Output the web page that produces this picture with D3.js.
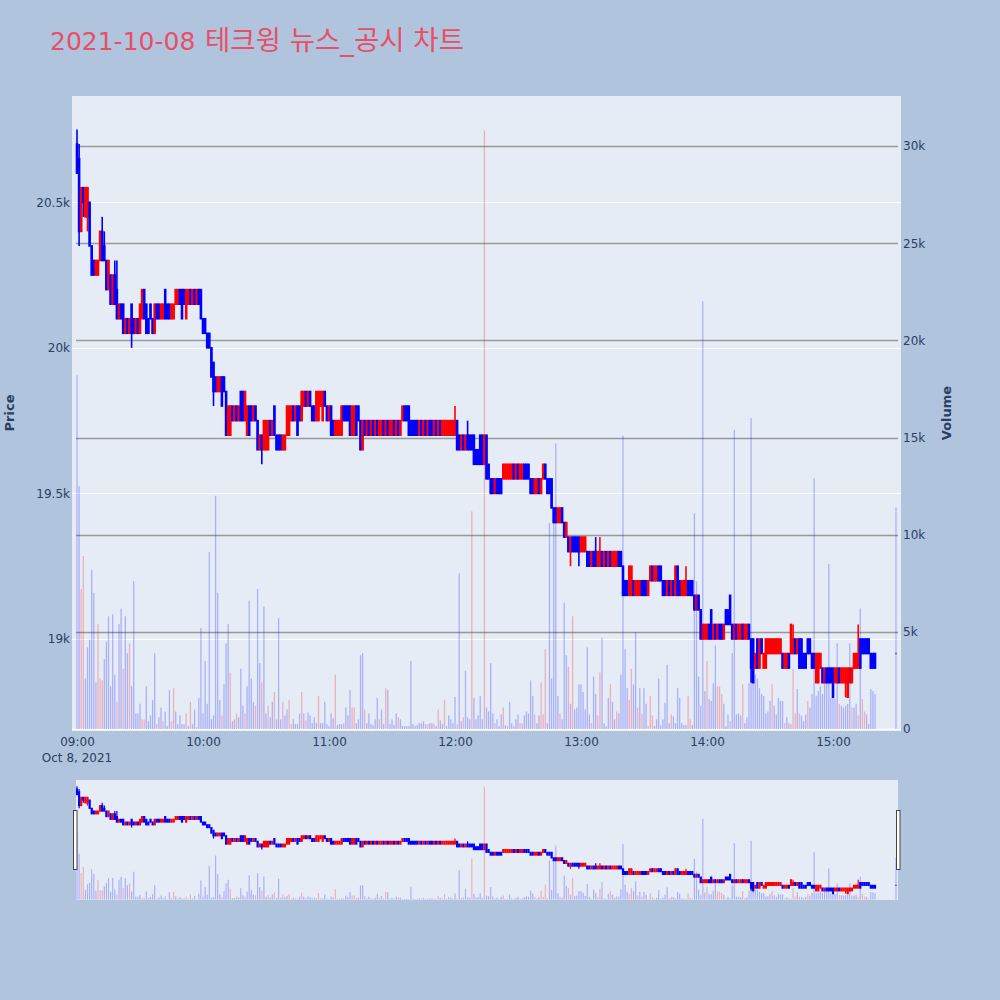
<!DOCTYPE html>
<html>
<head>
<meta charset="utf-8">
<style>
    body { margin: 0; background: #b0c4de; }
    svg text { font-family: "DejaVu Sans", "Noto Sans CJK KR", sans-serif; }
</style>
</head>
<body>
<svg id="chart" width="1000" height="1000"></svg>
<script src="https://cdn.jsdelivr.net/npm/d3@7"></script>
<script>
    // 1-minute candles 09:00 ~ 15:20, then the 15:30 closing print (last entry)
    var opens = [
        20700, 20650, 20400, 20550, 20450, 20450, 20500, 20350, 20300, 20250, // 09:00
        20250, 20300, 20400, 20350, 20300, 20200, 20250, 20150, 20250, 20200,
        20100, 20150, 20150, 20050, 20100, 20050, 20150, 20100, 20050, 20100,
        20050, 20100, 20200, 20150, 20100, 20150, 20100, 20050, 20150, 20150,
        20100, 20100, 20200, 20150, 20150, 20100, 20100, 20150, 20150, 20200,
        20200, 20200, 20100, 20150, 20200, 20150, 20200, 20150, 20200, 20200,
        20100, 20100, 20050, 20050, 20000, 19950, 19900, 19850, 19850, 19900, // 10:00
        19900, 19850, 19700, 19700, 19800, 19750, 19800, 19750, 19850, 19850,
        19750, 19700, 19800, 19800, 19750, 19800, 19750, 19650, 19700, 19650,
        19650, 19650, 19750, 19700, 19800, 19700, 19700, 19700, 19650, 19650,
        19700, 19700, 19750, 19800, 19750, 19800, 19800, 19750, 19800, 19850,
        19800, 19850, 19800, 19800, 19750, 19750, 19800, 19750, 19850, 19800,
        19750, 19800, 19750, 19700, 19700, 19700, 19700, 19800, 19800, 19800, // 11:00
        19800, 19700, 19700, 19800, 19800, 19750, 19650, 19750, 19700, 19750,
        19700, 19750, 19700, 19750, 19700, 19700, 19750, 19700, 19750, 19700,
        19700, 19750, 19700, 19750, 19700, 19750, 19800, 19800, 19800, 19750,
        19750, 19750, 19750, 19700, 19750, 19700, 19750, 19700, 19750, 19750,
        19700, 19750, 19700, 19750, 19700, 19700, 19700, 19700, 19700, 19700,
        19700, 19750, 19700, 19650, 19700, 19650, 19700, 19700, 19700, 19700, // 12:00
        19650, 19650, 19700, 19700, 19600, 19700, 19600, 19550, 19550, 19500,
        19550, 19550, 19550, 19550, 19550, 19550, 19550, 19550, 19600, 19550,
        19600, 19550, 19550, 19600, 19600, 19600, 19550, 19550, 19500, 19500,
        19550, 19500, 19550, 19600, 19550, 19550, 19550, 19450, 19450, 19400,
        19400, 19450, 19400, 19350, 19350, 19300, 19350, 19350, 19350, 19350,
        19300, 19300, 19300, 19300, 19300, 19250, 19300, 19300, 19250, 19250, // 13:00
        19300, 19250, 19300, 19250, 19300, 19250, 19250, 19250, 19300, 19300,
        19250, 19200, 19200, 19150, 19150, 19200, 19150, 19150, 19150, 19200,
        19200, 19200, 19150, 19200, 19250, 19200, 19200, 19250, 19250, 19200,
        19200, 19150, 19200, 19150, 19200, 19150, 19250, 19200, 19150, 19150,
        19150, 19200, 19200, 19200, 19150, 19100, 19150, 19100, 19000, 19000,
        19000, 19050, 19100, 19000, 19050, 19000, 19050, 19050, 19000, 19100, // 14:00
        19100, 19150, 19050, 19000, 19050, 19000, 19000, 19050, 19000, 19000,
        19050, 19000, 19000, 18900, 19000, 18900, 19000, 18900, 18900, 18950,
        18950, 18950, 18950, 18950, 18950, 18950, 18950, 18900, 18900, 18950,
        18950, 18950, 19000, 18950, 19000, 19000, 18950, 18950, 19000, 19000,
        18950, 18950, 18850, 18850, 18900, 18900, 18850, 18900, 18900, 18900,
        18900, 18850, 18850, 18900, 18850, 18850, 18850, 18800, 18850, 18850, // 15:00
        18900, 18900, 18900, 19000, 19000, 19000, 19000, 19000, 18950, 18950,
        18950,
        18950
    ];
    var closes = [
        20600, 20400, 20550, 20500, 20550, 20550, 20350, 20250, 20250, 20300,
        20300, 20400, 20300, 20300, 20200, 20300, 20150, 20250, 20150, 20100,
        20150, 20100, 20050, 20100, 20050, 20100, 20050, 20050, 20100, 20050,
        20150, 20200, 20100, 20050, 20050, 20100, 20050, 20150, 20100, 20100,
        20150, 20150, 20100, 20100, 20100, 20150, 20150, 20200, 20200, 20150,
        20100, 20150, 20200, 20200, 20150, 20200, 20150, 20200, 20150, 20100,
        20050, 20050, 20000, 20000, 19900, 19850, 19850, 19900, 19900, 19800,
        19850, 19700, 19800, 19800, 19750, 19800, 19750, 19800, 19750, 19750,
        19850, 19800, 19700, 19750, 19800, 19750, 19650, 19700, 19650, 19750,
        19750, 19750, 19700, 19750, 19700, 19650, 19650, 19650, 19700, 19700,
        19800, 19800, 19800, 19750, 19800, 19700, 19750, 19850, 19850, 19800,
        19850, 19800, 19750, 19750, 19850, 19850, 19850, 19850, 19800, 19750,
        19800, 19700, 19700, 19750, 19750, 19750, 19800, 19750, 19750, 19750,
        19700, 19800, 19800, 19700, 19750, 19650, 19750, 19700, 19750, 19700,
        19750, 19700, 19750, 19700, 19750, 19750, 19700, 19750, 19700, 19750,
        19750, 19700, 19750, 19700, 19750, 19800, 19750, 19750, 19700, 19700,
        19700, 19700, 19700, 19750, 19700, 19750, 19700, 19750, 19700, 19700,
        19750, 19700, 19750, 19700, 19750, 19750, 19750, 19750, 19750, 19750,
        19750, 19650, 19650, 19700, 19650, 19700, 19650, 19650, 19650, 19600,
        19600, 19600, 19600, 19600, 19700, 19550, 19550, 19500, 19500, 19550,
        19500, 19500, 19500, 19600, 19600, 19600, 19600, 19600, 19550, 19600,
        19550, 19600, 19600, 19550, 19550, 19550, 19500, 19500, 19550, 19550,
        19500, 19550, 19600, 19550, 19500, 19500, 19450, 19400, 19400, 19450,
        19450, 19400, 19350, 19400, 19300, 19350, 19300, 19300, 19300, 19300,
        19350, 19350, 19350, 19250, 19250, 19300, 19250, 19250, 19300, 19300,
        19250, 19300, 19250, 19300, 19250, 19300, 19300, 19300, 19250, 19250,
        19150, 19150, 19150, 19250, 19250, 19150, 19200, 19200, 19200, 19150,
        19150, 19150, 19200, 19250, 19200, 19250, 19250, 19200, 19200, 19150,
        19150, 19200, 19150, 19200, 19150, 19250, 19150, 19150, 19200, 19200,
        19200, 19150, 19150, 19150, 19100, 19150, 19100, 19000, 19050, 19050,
        19050, 19000, 19000, 19050, 19000, 19050, 19000, 19000, 19050, 19050,
        19050, 19050, 19000, 19050, 19000, 19050, 19050, 19000, 19050, 19050,
        19000, 18900, 18850, 18950, 18900, 19000, 18950, 18950, 19000, 19000,
        19000, 19000, 19000, 19000, 19000, 19000, 18900, 18950, 18950, 18900,
        19050, 19000, 18950, 19000, 18900, 18900, 18900, 18900, 18950, 18950,
        18900, 18900, 18950, 18950, 18950, 18850, 18900, 18850, 18850, 18850,
        18800, 18900, 18900, 18850, 18900, 18900, 18900, 18900, 18900, 18900,
        18950, 18950, 18950, 18900, 18950, 18950, 18950, 18950, 18900, 18900,
        18900,
        18950
    ];
    var highs = [
        20750, 20700, 20550, 20550, 20550, 20550, 20500, 20350, 20300, 20300,
        20300, 20400, 20450, 20400, 20300, 20300, 20250, 20250, 20300, 20300,
        20150, 20150, 20150, 20100, 20100, 20100, 20150, 20100, 20100, 20100,
        20150, 20200, 20200, 20150, 20100, 20150, 20100, 20150, 20150, 20150,
        20150, 20150, 20200, 20150, 20150, 20150, 20150, 20200, 20200, 20200,
        20200, 20200, 20200, 20200, 20200, 20200, 20200, 20200, 20200, 20200,
        20100, 20100, 20050, 20050, 20000, 19950, 19900, 19900, 19900, 19900,
        19900, 19850, 19800, 19800, 19800, 19800, 19800, 19800, 19850, 19850,
        19850, 19800, 19800, 19800, 19800, 19800, 19750, 19700, 19700, 19750,
        19750, 19750, 19750, 19750, 19800, 19700, 19700, 19700, 19700, 19700,
        19800, 19800, 19800, 19800, 19800, 19800, 19800, 19850, 19850, 19850,
        19850, 19850, 19800, 19800, 19850, 19850, 19850, 19850, 19850, 19800,
        19800, 19800, 19750, 19750, 19750, 19750, 19800, 19800, 19800, 19800,
        19800, 19800, 19800, 19800, 19800, 19750, 19750, 19750, 19750, 19750,
        19750, 19750, 19750, 19750, 19750, 19750, 19750, 19750, 19750, 19750,
        19750, 19750, 19750, 19750, 19750, 19800, 19800, 19800, 19800, 19750,
        19750, 19750, 19750, 19750, 19750, 19750, 19750, 19750, 19750, 19750,
        19750, 19750, 19750, 19750, 19750, 19750, 19750, 19750, 19750, 19750,
        19800, 19750, 19700, 19700, 19700, 19700, 19750, 19700, 19700, 19700,
        19650, 19650, 19700, 19700, 19700, 19700, 19600, 19550, 19550, 19550,
        19550, 19550, 19550, 19600, 19600, 19600, 19600, 19600, 19600, 19600,
        19600, 19600, 19600, 19600, 19600, 19600, 19550, 19550, 19550, 19550,
        19550, 19550, 19600, 19600, 19550, 19550, 19550, 19450, 19450, 19450,
        19450, 19450, 19400, 19400, 19350, 19350, 19350, 19350, 19350, 19350,
        19350, 19350, 19350, 19300, 19300, 19300, 19300, 19350, 19300, 19350,
        19300, 19300, 19300, 19300, 19300, 19300, 19300, 19300, 19300, 19300,
        19250, 19200, 19200, 19250, 19250, 19200, 19200, 19200, 19200, 19200,
        19200, 19200, 19200, 19250, 19250, 19250, 19250, 19250, 19250, 19200,
        19200, 19200, 19200, 19200, 19200, 19250, 19250, 19200, 19200, 19200,
        19250, 19200, 19200, 19200, 19150, 19150, 19150, 19100, 19050, 19050,
        19050, 19050, 19100, 19050, 19050, 19050, 19050, 19050, 19050, 19100,
        19100, 19150, 19050, 19050, 19050, 19050, 19050, 19050, 19050, 19050,
        19050, 19000, 19000, 18950, 19000, 19000, 19000, 18950, 19000, 19000,
        19000, 19000, 19000, 19000, 19000, 19000, 18950, 18950, 18950, 18950,
        19050, 19050, 19000, 19000, 19000, 19000, 18950, 18950, 19000, 19000,
        18950, 18950, 18950, 18950, 18950, 18900, 18900, 18900, 18900, 18900,
        18900, 18900, 18900, 18900, 18900, 18900, 18900, 18900, 18900, 18900,
        18950, 18950, 19050, 19000, 19000, 19000, 19000, 19000, 18950, 18950,
        18950,
        18950
    ];
    var lows = [
        20600, 20350, 20400, 20450, 20450, 20400, 20350, 20250, 20250, 20250,
        20250, 20300, 20300, 20300, 20200, 20200, 20150, 20150, 20150, 20100,
        20100, 20100, 20050, 20050, 20050, 20050, 20000, 20050, 20050, 20050,
        20050, 20100, 20100, 20050, 20050, 20100, 20050, 20050, 20100, 20100,
        20100, 20100, 20100, 20100, 20100, 20100, 20100, 20150, 20150, 20150,
        20100, 20150, 20100, 20150, 20150, 20150, 20150, 20150, 20150, 20100,
        20050, 20050, 20000, 20000, 19900, 19800, 19850, 19850, 19850, 19800,
        19850, 19700, 19700, 19700, 19750, 19750, 19750, 19750, 19750, 19750,
        19750, 19700, 19700, 19750, 19750, 19750, 19650, 19650, 19600, 19650,
        19650, 19650, 19700, 19700, 19700, 19650, 19650, 19650, 19650, 19650,
        19700, 19700, 19750, 19750, 19750, 19700, 19750, 19750, 19800, 19800,
        19800, 19800, 19750, 19750, 19750, 19750, 19800, 19750, 19800, 19750,
        19750, 19700, 19700, 19700, 19700, 19700, 19700, 19750, 19750, 19750,
        19700, 19700, 19700, 19700, 19750, 19650, 19650, 19700, 19700, 19700,
        19700, 19700, 19700, 19700, 19700, 19700, 19700, 19700, 19700, 19700,
        19700, 19700, 19700, 19700, 19700, 19750, 19750, 19750, 19700, 19700,
        19700, 19700, 19700, 19700, 19700, 19700, 19700, 19700, 19700, 19700,
        19700, 19700, 19700, 19700, 19700, 19700, 19700, 19700, 19700, 19700,
        19700, 19650, 19650, 19650, 19650, 19650, 19650, 19650, 19650, 19600,
        19600, 19600, 19600, 19600, 19600, 19550, 19550, 19500, 19500, 19500,
        19500, 19500, 19500, 19550, 19550, 19550, 19550, 19550, 19550, 19550,
        19550, 19550, 19550, 19550, 19550, 19550, 19500, 19500, 19500, 19500,
        19500, 19500, 19550, 19550, 19500, 19500, 19450, 19400, 19400, 19400,
        19400, 19400, 19350, 19350, 19300, 19250, 19300, 19300, 19300, 19250,
        19300, 19300, 19300, 19250, 19250, 19250, 19250, 19250, 19250, 19250,
        19250, 19250, 19250, 19250, 19250, 19250, 19250, 19250, 19250, 19250,
        19150, 19150, 19150, 19150, 19150, 19150, 19150, 19150, 19150, 19150,
        19150, 19150, 19150, 19200, 19200, 19200, 19200, 19200, 19200, 19150,
        19150, 19150, 19150, 19150, 19150, 19150, 19150, 19150, 19150, 19150,
        19150, 19150, 19150, 19150, 19100, 19100, 19100, 19000, 19000, 19000,
        19000, 19000, 19000, 19000, 19000, 19000, 19000, 19000, 19000, 19050,
        19050, 19050, 19000, 19000, 19000, 19000, 19000, 19000, 19000, 19000,
        19000, 18850, 18850, 18900, 18900, 18900, 18950, 18900, 18900, 18950,
        18950, 18950, 18950, 18950, 18950, 18950, 18900, 18900, 18900, 18900,
        18950, 18950, 18950, 18950, 18900, 18900, 18900, 18900, 18950, 18950,
        18900, 18900, 18850, 18850, 18900, 18850, 18850, 18850, 18850, 18850,
        18800, 18850, 18850, 18850, 18850, 18850, 18800, 18800, 18850, 18850,
        18900, 18900, 18900, 18900, 18950, 18950, 18950, 18950, 18900, 18900,
        18900,
        18950
    ];
    var volumes = [
        18200, 12500, 7200, 8900, 2600, 4200, 4600, 8200, 7000, 2400,
        5400, 2600, 2500, 3600, 4500, 5800, 2200, 5900, 2800, 1400,
        5400, 6200, 3100, 5800, 3900, 4400, 2200, 7600, 800, 800,
        1300, 500, 500, 2200, 400, 700, 1500, 3900, 250, 600,
        1100, 400, 900, 150, 2000, 400, 2100, 900, 250, 700,
        250, 250, 800, 150, 1400, 250, 1000, 100, 1600, 5200,
        800, 3500, 1300, 9100, 500, 700, 12000, 7000, 1500, 700,
        2300, 4400, 5400, 2900, 400, 500, 800, 600, 3100, 1200,
        800, 2200, 6600, 2600, 1400, 1200, 7200, 3400, 2400, 6300,
        800, 1200, 600, 1400, 1900, 500, 5700, 500, 1400, 700,
        1000, 1500, 250, 500, 250, 250, 800, 1900, 800, 450,
        850, 700, 300, 600, 300, 1700, 300, 300, 1400, 250,
        150, 800, 550, 2800, 200, 250, 250, 300, 1100, 700,
        2000, 1100, 1100, 300, 500, 3800, 3900, 1000, 300, 800,
        250, 200, 500, 1600, 500, 1000, 250, 2100, 2000, 250,
        500, 200, 800, 600, 500, 150, 150, 150, 150, 3500,
        250, 150, 200, 300, 300, 400, 250, 250, 300, 300,
        250, 150, 1000, 450, 250, 1500, 150, 700, 500, 300,
        1650, 250, 8000, 400, 600, 3000, 600, 500, 11200, 1600,
        500, 700, 1700, 500, 30800, 1100, 900, 3400, 800, 300,
        500, 150, 750, 1100, 200, 150, 1400, 300, 150, 500,
        750, 300, 300, 700, 900, 800, 2500, 1700, 750, 300,
        700, 2400, 750, 4100, 300, 10600, 2600, 10700, 14700, 1700,
        800, 500, 6500, 3800, 3200, 1300, 5800, 1000, 1100, 2300,
        2300, 1900, 1000, 4200, 750, 300, 2700, 1800, 700, 2900,
        4700, 300, 150, 1600, 2300, 1400, 500, 900, 800, 2800,
        15100, 4100, 2100, 1500, 3100, 2300, 5000, 1100, 2100, 800,
        2100, 1300, 150, 1700, 700, 150, 500, 2600, 200, 500,
        1350, 3300, 300, 750, 650, 300, 2100, 1600, 300, 200,
        200, 1700, 500, 200, 11100, 7600, 2700, 1200, 22000, 1950,
        3500, 1550, 1450, 2350, 4300, 2200, 2200, 1800, 1300, 150,
        750, 400, 3900, 15400, 750, 800, 700, 2300, 300, 600,
        2350, 16000, 2900, 2800, 2600, 2100, 1800, 1700, 800, 900,
        1450, 2300, 1200, 750, 1600, 1450, 1450, 300, 600, 300,
        250, 3100, 800, 2050, 800, 700, 400, 750, 1450, 1100,
        1800, 12900, 1700, 1950, 2200, 1800, 2800, 2350, 8500, 1600,
        1950, 1550, 4400, 1300, 1200, 1100, 1200, 1300, 4400, 1100,
        1100, 1300, 700, 6200, 1550, 900, 750, 250, 2050, 1950,
        1800,
        11400
    ];
    // volume bar colour per candle: r = red, d = blue
    var volumeDir = ("ddrrdddddd rrrddddddr ddrddrdddd drrdddddrd drdddrrddd ddrdrddrdd " +
        "dddddddddr dddrddrddd rddddrddrd drddrdddrd drrddddrdr dddddrdddd " +
        "dddrdddrdd drrddddrdd ddddrddrdd dddrdddddd ddddddrrdd rdrddrdddd " +
        "drddrdddrd ddddrddddr dddrdrddrd drrdddddrd drrrdddddd rdddrdrddd " +
        "dddddrddrr ddddrddrdd dddrrddrdr ddrrrddddd dddrdddddd drrddddddd " +
        "rddddrrrdd drdddddrdd dddddddddd drdddddrdd rrrdrdddrd dddddddddd " +
        "dddrdddddr ddrdrrdddd d d").replace(/ /g, "");

    var priceTicks = [19000, 19500, 20000, 20500];
    var volumeTicks = [0, 5000, 10000, 15000, 20000, 25000, 30000];

    var times = d3.timeMinute.range(new Date(2021, 9, 8, 9, 0), new Date(2021, 9, 8, 15, 21))
        .concat([new Date(2021, 9, 8, 15, 30)]);

    var plot = { left: 72, right: 901, top: 96, bottom: 731 };
    var rs = { left: 76, right: 898, top: 780, bottom: 900 };
    var textColor = "#2a3f5f";
    var idx = d3.range(Math.min(times.length, opens.length, closes.length, highs.length, lows.length));

    var x = d3.scaleTime()
        .domain([new Date(2021, 9, 8, 8, 57, 37), new Date(2021, 9, 8, 15, 32, 23)])
        .range([plot.left, plot.right]);
    var yPrice = d3.scaleLinear().domain([18684, 20865]).range([plot.bottom, plot.top]);
    var yVol = d3.scaleLinear().domain([0, 32573]).range([729, plot.top]);
    var yPriceRs = d3.scaleLinear().domain([18684, 20865]).range([rs.bottom, rs.top]);
    var yVolRs = d3.scaleLinear().domain([0, 32573]).range([rs.bottom - 0.4, rs.top]);

    var svg = d3.select("#chart");

    // title
    var title = svg.append("text")
        .attr("x", 50).attr("y", 50)
        .attr("font-size", 25)
        .attr("fill", "#e84f66");
    title.append("tspan").text("2021-10-08");
    title.append("tspan").attr("dx", 1).attr("font-size", 27.5).text(" 테크윙 뉴스_공시 차트");

    var defs = svg.append("defs");
    defs.append("clipPath").attr("id", "clipMain").append("rect")
        .attr("x", plot.left).attr("y", plot.top)
        .attr("width", plot.right - plot.left).attr("height", plot.bottom - plot.top);
    defs.append("clipPath").attr("id", "clipRs").append("rect")
        .attr("x", rs.left).attr("y", rs.top)
        .attr("width", rs.right - rs.left).attr("height", rs.bottom - rs.top);

    // plot background
    svg.append("rect")
        .attr("x", plot.left).attr("y", plot.top)
        .attr("width", plot.right - plot.left).attr("height", plot.bottom - plot.top)
        .attr("fill", "#e5ecf6");

    // price grid (white) and volume grid (grey)
    svg.append("g").selectAll("line").data(priceTicks).join("line")
        .attr("x1", plot.left).attr("x2", plot.right)
        .attr("y1", d => Math.round(yPrice(d)) + 0.5).attr("y2", d => Math.round(yPrice(d)) + 0.5)
        .attr("stroke", "#fff").attr("stroke-width", 1);
    svg.append("g").selectAll("line").data(volumeTicks.slice(1)).join("line")
        .attr("x1", rs.left).attr("x2", rs.right)
        .attr("y1", d => Math.round(yVol(d)) + 0.5).attr("y2", d => Math.round(yVol(d)) + 0.5)
        .attr("stroke", "#999").attr("stroke-width", 1.3);
    svg.append("line")
        .attr("x1", plot.left).attr("x2", plot.right)
        .attr("y1", yVol(0) + 0.5).attr("y2", yVol(0) + 0.5)
        .attr("stroke", "#fff").attr("stroke-width", 1.5);

    function candleColor(i) {
        return closes[i] > opens[i] ? "#ff0000" : "#0000ff";
    }

    function drawCandles(g, y, half, lw) {
        g.append("g").selectAll("line").data(idx).join("line")
            .attr("x1", i => x(times[i])).attr("x2", i => x(times[i]))
            .attr("y1", i => y(highs[i])).attr("y2", i => y(lows[i]))
            .attr("stroke", candleColor).attr("stroke-width", lw);
        g.append("g").selectAll("path").data(idx).join("path")
            .attr("d", i => {
                var cx = x(times[i]), y0 = y(opens[i]), y1 = y(closes[i]);
                return "M" + (cx - half) + "," + y0 + "H" + (cx + half) + "V" + y1 + "H" + (cx - half) + "Z";
            })
            .attr("fill", candleColor).attr("stroke", candleColor).attr("stroke-width", lw);
    }

    function drawVolume(g, y, w) {
        g.append("g").selectAll("rect").data(d3.range(volumes.length)).join("rect")
            .attr("x", i => x(times[i]) - w / 2).attr("width", w)
            .attr("y", i => y(volumes[i])).attr("height", i => y(0) - y(volumes[i]))
            .attr("fill", i => volumeDir[i] === "r" ? "rgba(255,0,0,0.25)" : "rgba(0,0,255,0.25)");
    }

    var main = svg.append("g").attr("clip-path", "url(#clipMain)");
    drawCandles(main, yPrice, 0.5, 1.6);
    drawVolume(main, yVol, 1.3);

    // axes
    var fmtK = d3.format("~s");
    var leftAxis = svg.append("g").attr("transform", "translate(" + plot.left + ",0)")
        .call(d3.axisLeft(yPrice).tickValues(priceTicks).tickFormat(fmtK).tickSize(0).tickPadding(2));
    var rightAxis = svg.append("g").attr("transform", "translate(" + plot.right + ",0)")
        .call(d3.axisRight(yVol).tickValues(volumeTicks).tickFormat(fmtK).tickSize(0).tickPadding(2));
    var hours = d3.timeHour.range(new Date(2021, 9, 8, 9), new Date(2021, 9, 8, 15, 1));
    var bottomAxis = svg.append("g").attr("transform", "translate(0," + plot.bottom + ")")
        .call(d3.axisBottom(x).tickValues(hours).tickFormat(d3.timeFormat("%H:%M")).tickSize(0).tickPadding(6));
    [leftAxis, rightAxis, bottomAxis].forEach(a => {
        a.select(".domain").remove();
        a.selectAll("text").attr("font-family", "'DejaVu Sans', sans-serif")
            .attr("font-size", 12).attr("fill", textColor);
    });
    svg.append("text")
        .attr("x", x(hours[0])).attr("y", 762)
        .attr("text-anchor", "middle").attr("font-size", 12).attr("fill", textColor)
        .text("Oct 8, 2021");

    svg.append("text")
        .attr("transform", "translate(14,413) rotate(-90)")
        .attr("text-anchor", "middle").attr("font-size", 13).attr("font-weight", "bold")
        .attr("fill", textColor).text("Price");
    svg.append("text")
        .attr("transform", "translate(951,413) rotate(-90)")
        .attr("text-anchor", "middle").attr("font-size", 13).attr("font-weight", "bold")
        .attr("fill", textColor).text("Volume");

    // range slider
    svg.append("rect")
        .attr("x", rs.left).attr("y", rs.top)
        .attr("width", rs.right - rs.left).attr("height", rs.bottom - rs.top)
        .attr("fill", "#e5ecf6");
    var mini = svg.append("g").attr("clip-path", "url(#clipRs)");
    drawCandles(mini, yPriceRs, 0.5, 1.2);
    drawVolume(mini, yVolRs, 1.2);
    [rs.left - 2.5, rs.right - 1.5].forEach(hx => {
        svg.append("rect")
            .attr("x", hx).attr("y", 810.5)
            .attr("width", 3.5).attr("height", 59)
            .attr("fill", "#fff").attr("stroke", "#444").attr("stroke-width", 1);
    });
</script>
</body>
</html>
